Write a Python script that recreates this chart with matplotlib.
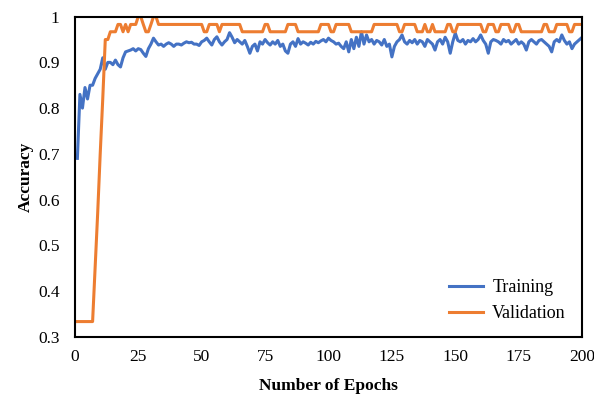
import numpy as np
import matplotlib
matplotlib.use('Agg')
import matplotlib.pyplot as plt

plt.rcParams['font.family'] = ['Liberation Serif', 'DejaVu Serif']

# Accuracy per epoch
epochs = np.arange(1, 201)

training = [
    0.69, 0.83, 0.80, 0.845, 0.82, 0.85, 0.85, 0.865, 0.875, 0.885,
    0.91, 0.885, 0.90, 0.90, 0.895, 0.905, 0.895, 0.89, 0.91, 0.923,
    0.925, 0.927, 0.93, 0.925, 0.93, 0.928, 0.92, 0.913, 0.93, 0.94,
    0.953, 0.945, 0.938, 0.94, 0.935, 0.94, 0.943, 0.94, 0.935, 0.94,
    0.94, 0.938, 0.942, 0.945, 0.943, 0.944, 0.94, 0.94, 0.937, 0.945,
    0.948, 0.953, 0.945, 0.938, 0.95, 0.956, 0.945, 0.938, 0.945, 0.95,
    0.965, 0.955, 0.943, 0.95, 0.945, 0.94, 0.948, 0.935, 0.92, 0.935,
    0.94, 0.925, 0.945, 0.94, 0.95, 0.943, 0.938, 0.945, 0.94, 0.948,
    0.935, 0.94, 0.925, 0.92, 0.94, 0.945, 0.935, 0.952, 0.94, 0.945,
    0.942, 0.938, 0.944, 0.94, 0.946, 0.943, 0.947, 0.95, 0.945, 0.953,
    0.948, 0.945, 0.94, 0.942, 0.935, 0.93, 0.945, 0.923, 0.95, 0.93,
    0.955, 0.935, 0.967, 0.94, 0.96, 0.945, 0.95, 0.94, 0.948, 0.945,
    0.938, 0.95, 0.935, 0.94, 0.912, 0.935, 0.945, 0.95, 0.96, 0.945,
    0.94, 0.948, 0.943, 0.95, 0.94, 0.948, 0.945, 0.935, 0.95, 0.945,
    0.94, 0.927, 0.945, 0.95, 0.94, 0.955, 0.945, 0.92, 0.945, 0.964,
    0.948, 0.945, 0.95, 0.94, 0.948, 0.945, 0.952, 0.945, 0.95, 0.96,
    0.948, 0.94, 0.92, 0.945, 0.95, 0.948, 0.945, 0.94, 0.95, 0.945,
    0.948, 0.94, 0.945, 0.95, 0.94, 0.945, 0.94, 0.927, 0.945, 0.95,
    0.945, 0.94, 0.948, 0.95, 0.945, 0.94, 0.935, 0.923, 0.945, 0.95,
    0.945, 0.96, 0.948, 0.94, 0.945, 0.93, 0.94, 0.945, 0.95, 0.955,
]

validation = [
    0.333, 0.333, 0.333, 0.333, 0.333, 0.333, 0.333, 0.45, 0.57, 0.70,
    0.82, 0.95, 0.95, 0.967, 0.967, 0.967, 0.983, 0.983, 0.967, 0.983,
    0.967, 0.983, 0.983, 0.983, 1.0, 1.0, 0.983, 0.967, 0.967, 0.983,
    1.0, 1.0, 0.983, 0.983, 0.983, 0.983, 0.983, 0.983, 0.983, 0.983,
    0.983, 0.983, 0.983, 0.983, 0.983, 0.983, 0.983, 0.983, 0.983, 0.983,
    0.967, 0.967, 0.983, 0.983, 0.983, 0.983, 0.967, 0.983, 0.983, 0.983,
    0.983, 0.983, 0.983, 0.983, 0.983, 0.967, 0.967, 0.967, 0.967, 0.967,
    0.967, 0.967, 0.967, 0.967, 0.983, 0.983, 0.967, 0.967, 0.967, 0.967,
    0.967, 0.967, 0.967, 0.983, 0.983, 0.983, 0.983, 0.967, 0.967, 0.967,
    0.967, 0.967, 0.967, 0.967, 0.967, 0.967, 0.983, 0.983, 0.983, 0.983,
    0.967, 0.967, 0.983, 0.983, 0.983, 0.983, 0.983, 0.983, 0.967, 0.967,
    0.967, 0.967, 0.967, 0.967, 0.967, 0.967, 0.967, 0.983, 0.983, 0.983,
    0.983, 0.983, 0.983, 0.983, 0.983, 0.983, 0.983, 0.967, 0.967, 0.983,
    0.983, 0.983, 0.983, 0.983, 0.967, 0.967, 0.967, 0.983, 0.967, 0.967,
    0.983, 0.967, 0.967, 0.967, 0.967, 0.967, 0.983, 0.983, 0.967, 0.967,
    0.983, 0.983, 0.983, 0.983, 0.983, 0.983, 0.983, 0.983, 0.983, 0.983,
    0.967, 0.967, 0.983, 0.983, 0.983, 0.967, 0.967, 0.983, 0.983, 0.983,
    0.983, 0.967, 0.967, 0.983, 0.983, 0.967, 0.967, 0.967, 0.967, 0.967,
    0.967, 0.967, 0.967, 0.967, 0.983, 0.983, 0.967, 0.967, 0.967, 0.983,
    0.983, 0.983, 0.983, 0.983, 0.967, 0.967, 0.983, 0.983, 0.983, 0.983,
]

x_ticks = [0, 25, 50, 75, 100, 125, 150, 175, 200]
y_ticks = [0.3, 0.4, 0.5, 0.6, 0.7, 0.8, 0.9, 1.0]
y_labels = ['0.3', '0.4', '0.5', '0.6', '0.7', '0.8', '0.9', '1']

fig = plt.figure(figsize=(5.94, 3.97), dpi=100)
ax = fig.add_axes([0.126, 0.152, 0.854, 0.806])

ax.plot(epochs, training, color='#4472C4', lw=2.2, label='Training')
ax.plot(epochs, validation, color='#ED7D31', lw=2.2, label='Validation')

ax.set_xlim(0, 200)
ax.set_ylim(0.3, 1.0)
ax.set_xticks(x_ticks)
ax.set_yticks(y_ticks)
ax.set_yticklabels(y_labels)
ax.tick_params(axis='y', length=0, labelsize=12.5, pad=11)
ax.tick_params(axis='x', length=0, labelsize=12.5, pad=9)

for s in ax.spines.values():
    s.set_linewidth(1.5)
    s.set_color('black')

ax.set_xlabel('Number of Epochs', fontsize=12.5, fontweight='bold', labelpad=9)
ax.set_ylabel('Accuracy', fontsize=12.5, fontweight='bold', labelpad=3)

ax.legend(loc='lower right', frameon=False, fontsize=13, handlelength=1.9,
          handletextpad=0.5, labelspacing=0.5, bbox_to_anchor=(1.0, -0.005))

fig.savefig('out.png', dpi=100)
